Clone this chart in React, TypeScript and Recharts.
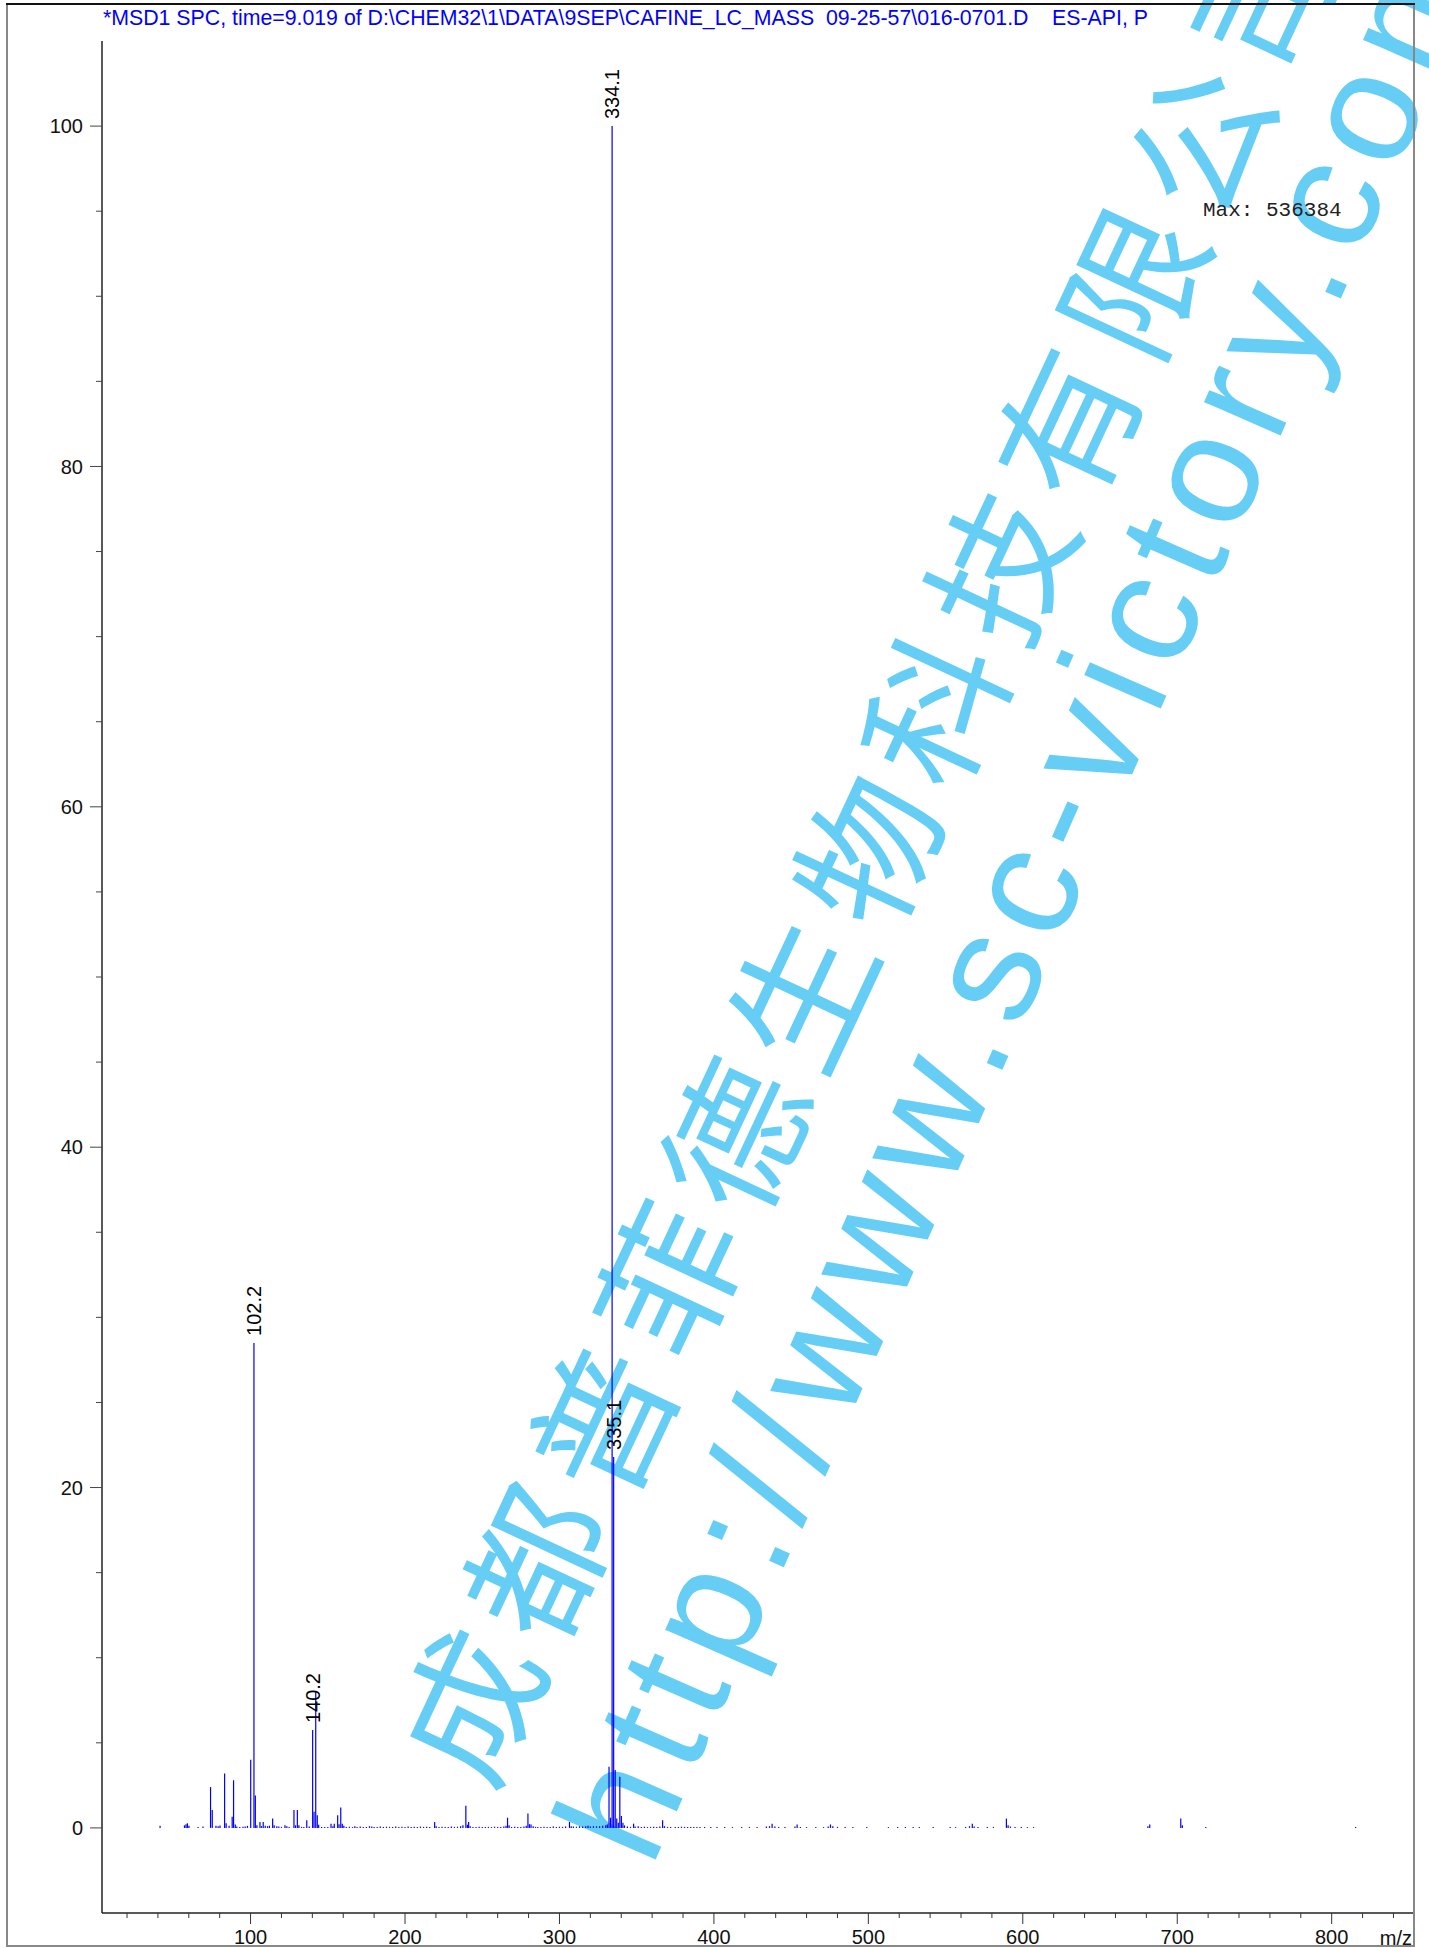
import React from "react";
import { Bar, BarChart, LabelList, XAxis, YAxis } from "recharts";

// m/z of every line in the spectrum
const peakMz = [
  41.4, 57.2, 58.2, 59.1, 60.1, 66.0, 69.2, 74.1, 75.2, 77.6, 79.0, 80.2,
  83.2, 84.2, 86.1, 88.1, 89.0, 90.1, 91.1, 93.0, 95.1, 96.5, 98.0, 100.1,
  102.2, 103.1, 104.1, 106.1, 107.1, 108.2, 109.5, 111.0, 112.2, 114.3, 115.3,
  117.0, 118.3, 120.0, 122.3, 123.5, 125.0, 128.1, 129.1, 130.3, 131.3, 133.0,
  134.5, 136.4, 138.0, 140.2, 141.1, 142.2, 143.2, 144.1, 146.0, 148.0, 150.0,
  152.1, 153.3, 154.2, 156.4, 157.3, 158.4, 159.4, 160.4, 162.0, 164.0, 166.0,
  167.5, 169.0, 171.0, 173.0, 175.0, 177.0, 178.5, 180.0, 182.0, 184.0, 186.0,
  188.0, 190.0, 192.0, 194.0, 196.0, 198.0, 200.0, 202.0, 204.0, 206.0, 208.0,
  210.0, 212.0, 214.0, 216.0, 219.2, 220.2, 222.0, 224.0, 226.0, 228.0, 230.0,
  232.0, 234.0, 236.0, 237.5, 239.4, 240.4, 241.2, 242.2, 244.0, 246.0, 248.0,
  250.0, 252.0, 254.0, 256.0, 258.0, 260.0, 262.0, 264.0, 265.4, 266.4, 267.4,
  269.0, 271.0, 273.0, 275.0, 277.0, 278.5, 279.6, 280.6, 281.6, 283.0, 284.5,
  286.0, 288.0, 290.0, 292.0, 294.0, 296.0, 298.0, 300.0, 302.0, 304.0, 306.5,
  307.6, 309.0, 311.0, 313.0, 315.0, 317.0, 318.5, 320.0, 322.0, 324.0, 326.0,
  328.0, 330.0, 331.0, 332.1, 333.1, 334.1, 335.1, 336.1, 337.1, 338.1, 339.1,
  340.1, 341.1, 342.1, 344.0, 346.0, 348.0, 349.0, 351.0, 353.0, 355.0, 357.0,
  359.0, 361.0, 363.0, 365.0, 366.8, 368.0, 370.0, 372.0, 375.0, 377.0, 379.0,
  381.0, 383.0, 385.0, 387.0, 389.0, 391.0, 394.0, 398.0, 402.0, 407.0, 412.0,
  418.0, 423.0, 428.0, 434.0, 436.0, 437.7, 439.5, 442.0, 446.0, 452.5, 453.9,
  456.0, 460.0, 466.0, 471.0, 474.0, 475.5, 477.0, 480.0, 485.0, 490.0, 499.0,
  513.0, 519.0, 524.0, 529.0, 533.0, 542.0, 553.0, 556.5, 563.0, 565.5, 567.3,
  568.5, 571.0, 577.0, 581.0, 589.4, 590.5, 592.0, 595.0, 599.0, 603.0, 607.0,
  681.0, 682.2, 702.3, 703.3, 718.5, 815.5,
];

// relative abundance (%) for each m/z above
const peakPct = [
  0.12, 0.15, 0.22, 0.28, 0.12, 0.06, 0.08, 2.4, 1.05, 0.12, 0.1, 0.14,
  3.2, 0.28, 0.12, 0.65, 2.8, 0.2, 0.08, 0.06, 0.07, 0.08, 0.12, 4.0,
  28.5, 1.9, 0.15, 0.35, 0.1, 0.35, 0.12, 0.1, 0.12, 0.55, 0.15,
  0.1, 0.08, 0.06, 0.15, 0.1, 0.06, 1.05, 0.15, 1.05, 0.15, 0.06,
  0.05, 0.45, 0.08, 5.75, 0.95, 8.0, 0.75, 0.18, 0.06, 0.06, 0.05,
  0.25, 0.1, 0.25, 0.75, 0.22, 1.2, 0.25, 0.12, 0.06, 0.07, 0.05,
  0.1, 0.06, 0.08, 0.06, 0.05, 0.1, 0.08, 0.06, 0.05, 0.08, 0.06,
  0.07, 0.06, 0.05, 0.08, 0.06, 0.07, 0.05, 0.08, 0.06, 0.07, 0.06,
  0.08, 0.06, 0.07, 0.05, 0.35, 0.1, 0.06, 0.07, 0.05, 0.06, 0.08,
  0.06, 0.07, 0.1, 0.15, 1.3, 0.18, 0.35, 0.1, 0.06, 0.05, 0.07,
  0.06, 0.05, 0.06, 0.05, 0.07, 0.05, 0.06, 0.08, 0.12, 0.6, 0.15,
  0.06, 0.07, 0.05, 0.06, 0.08, 0.12, 0.85, 0.22, 0.2, 0.1, 0.06,
  0.05, 0.06, 0.07, 0.05, 0.06, 0.08, 0.06, 0.07, 0.06, 0.08, 0.35,
  0.1, 0.08, 0.07, 0.1, 0.08, 0.1, 0.12, 0.08, 0.1, 0.09, 0.1,
  0.12, 0.15, 0.2, 3.6, 0.6, 100, 21.8, 3.4, 0.55, 0.3, 3.0,
  0.7, 0.3, 0.15, 0.08, 0.06, 0.25, 0.08, 0.1, 0.06, 0.07, 0.05,
  0.06, 0.07, 0.06, 0.08, 0.45, 0.1, 0.06, 0.05, 0.06, 0.05, 0.07,
  0.06, 0.05, 0.06, 0.05, 0.06, 0.05, 0.06, 0.05, 0.05, 0.06, 0.05,
  0.05, 0.06, 0.05, 0.08, 0.1, 0.25, 0.08, 0.06, 0.05, 0.08, 0.2,
  0.06, 0.05, 0.05, 0.05, 0.08, 0.2, 0.1, 0.06, 0.05, 0.05, 0.05,
  0.05, 0.05, 0.06, 0.05, 0.05, 0.05, 0.06, 0.05, 0.06, 0.1, 0.25,
  0.08, 0.06, 0.05, 0.06, 0.55, 0.15, 0.08, 0.06, 0.05, 0.05, 0.05,
  0.1, 0.2, 0.55, 0.15, 0.05, 0.05,
];

const labelledPeaks = ["102.2", "140.2", "334.1", "335.1"];

const xTicks = [
  20, 40, 60, 80, 100, 120, 140, 160, 180, 200, 220, 240, 260, 280, 300, 320,
  340, 360, 380, 400, 420, 440, 460, 480, 500, 520, 540, 560, 580, 600, 620,
  640, 660, 680, 700, 720, 740, 760, 780, 800, 820, 840,
];
const yTicks = [
  0, 5, 10, 15, 20, 25, 30, 35, 40, 45, 50, 55, 60, 65, 70, 75, 80, 85, 90, 95,
  100,
];

const titleText =
  "*MSD1 SPC, time=9.019 of D:\\CHEM32\\1\\DATA\\9SEP\\CAFINE_LC_MASS  09-25-57\\016-0701.D    ES-API, P";
const maxText = "Max: 536384";
const unitText = "m/z";
const watermarkCn = "成都普菲德生物科技有限公司";
const watermarkUrl = "http://www.sc-victory.com";

const spectrum = peakMz.map((mz, i) => ({
  mz,
  pct: peakPct[i],
  label: labelledPeaks.includes(mz.toFixed(1)) ? mz.toFixed(1) : "",
}));

const W = 1429;
const H = 1948;
const SANS = "'Liberation Sans', Arial, sans-serif";
const WM = "#66CDF5";

function XTick({ x, y, payload }: any) {
  const v = payload.value;
  const major = v % 100 === 0;
  return (
    <g>
      <line x1={x} y1={y} x2={x} y2={y + (major ? 11 : 5)} stroke="#333" strokeWidth={1} />
      {major && (
        <text x={x} y={y + 31} textAnchor="middle" fontSize={20} fontFamily={SANS} fill="#111">
          {v}
        </text>
      )}
    </g>
  );
}

function YTick({ x, y, payload }: any) {
  const v = payload.value;
  const major = v % 20 === 0;
  return (
    <g>
      <line x1={x} y1={y} x2={x - (major ? 12 : 6)} y2={y} stroke="#444" strokeWidth={1} />
      {major && (
        <text x={x - 19} y={y} dy="0.36em" textAnchor="end" fontSize={20} fontFamily={SANS} fill="#111">
          {v}
        </text>
      )}
    </g>
  );
}

function PeakLabel(props: any) {
  const { x, y, width, value } = props;
  if (!value) return null;
  const cx = x + width / 2;
  const cy = y - 7;
  return (
    <text
      x={cx}
      y={cy}
      transform={`rotate(-90 ${cx} ${cy})`}
      textAnchor="start"
      dominantBaseline="central"
      fontSize={20}
      fontFamily={SANS}
      fill="#000"
    >
      {value}
    </text>
  );
}

export default function App() {
  return (
    <div style={{ position: "relative", width: W, height: H, background: "#fff", overflow: "hidden" }}>
      <style>{`body{margin:0}`}</style>

      {/* watermark, drawn under the spectrum */}
      <svg width={W} height={H} style={{ position: "absolute", left: 0, top: 0 }}>
        <text
          transform="translate(864 842) rotate(-65)"
          textAnchor="middle"
          dominantBaseline="central"
          fontSize={143}
          letterSpacing={14}
          fontFamily="'Noto Sans CJK SC', sans-serif"
          fill={WM}
        >
          {watermarkCn}
        </text>
        <text
          transform="translate(1022 888) rotate(-66.3)"
          textAnchor="middle"
          dominantBaseline="central"
          fontSize={158}
          letterSpacing={13}
          fontFamily={SANS}
          fill={WM}
        >
          {watermarkUrl}
        </text>
      </svg>

      <div style={{ position: "absolute", left: 0, top: 0 }}>
        <BarChart
          width={W}
          height={H}
          data={spectrum}
          margin={{ top: 41, right: 15, left: 12, bottom: 0 }}
        >
          <XAxis
            dataKey="mz"
            type="number"
            domain={[3.8, 853.3]}
            allowDataOverflow
            ticks={xTicks}
            interval={0}
            tickSize={0}
            tickMargin={0}
            height={35}
            tick={<XTick />}
            axisLine={{ stroke: "#222", strokeWidth: 1.5 }}
            tickLine={false}
          />
          <YAxis
            type="number"
            domain={[-5, 105]}
            allowDataOverflow
            ticks={yTicks}
            interval={0}
            tickSize={0}
            tickMargin={0}
            width={90}
            tick={<YTick />}
            axisLine={{ stroke: "#222", strokeWidth: 1.5 }}
            tickLine={false}
          />
          <Bar dataKey="pct" fill="#0000ff" barSize={1.2} isAnimationActive={false}>
            <LabelList dataKey="label" content={<PeakLabel />} />
          </Bar>
        </BarChart>
      </div>

      {/* frame and fixed texts */}
      <svg width={W} height={H} style={{ position: "absolute", left: 0, top: 0, pointerEvents: "none" }}>
        <rect x={7} y={4} width={1407} height={1942} fill="none" stroke="#888" strokeWidth={2} />
        <line x1={6} y1={4} x2={1415} y2={4} stroke="#111" strokeWidth={2} />
        <text x={103} y={25} fontSize={21.3} fontFamily={SANS} fill="#0000ff" style={{ whiteSpace: "pre" }}>
          {titleText}
        </text>
        <text x={1203} y={216} fontSize={21} fontFamily="'Liberation Mono', 'Courier New', monospace" fill="#222">
          {maxText}
        </text>
        <text x={1412} y={1945} textAnchor="end" fontSize={20} fontFamily={SANS} fill="#111">
          {unitText}
        </text>
      </svg>
    </div>
  );
}
